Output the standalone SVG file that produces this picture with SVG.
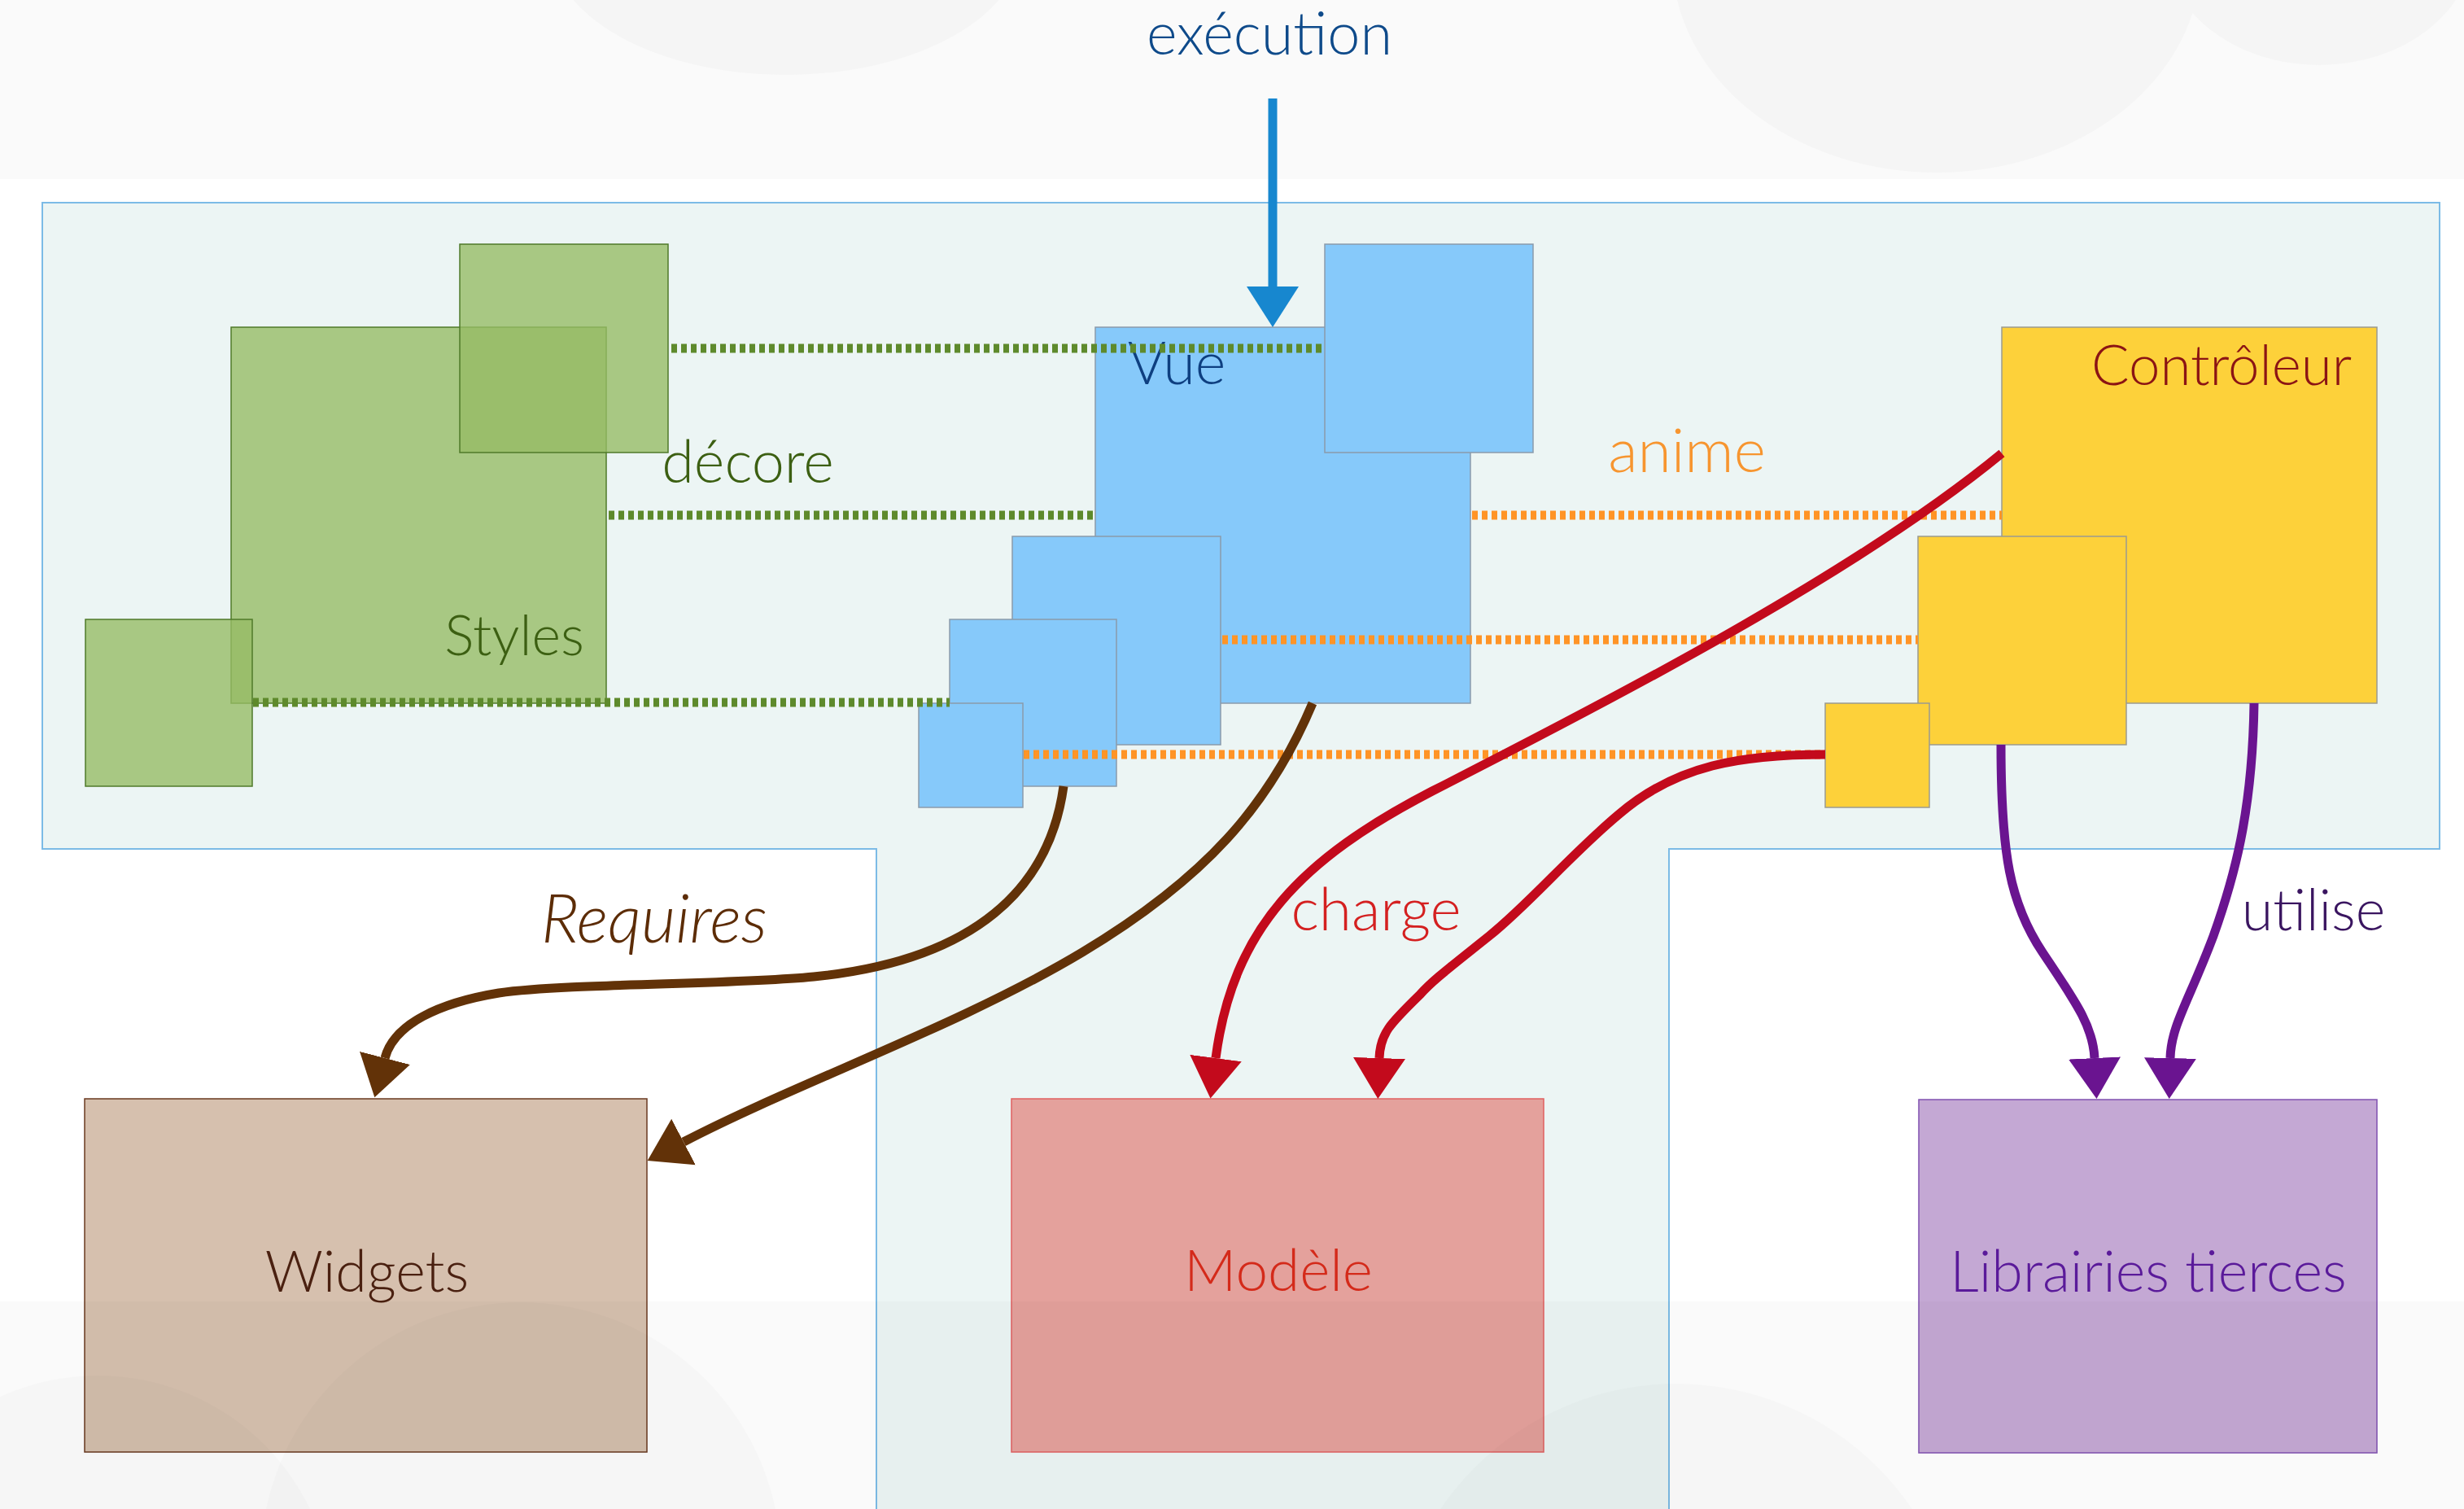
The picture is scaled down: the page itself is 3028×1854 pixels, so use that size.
<svg xmlns="http://www.w3.org/2000/svg" width="3028" height="1854" viewBox="0 0 3028 1854">
<style>
  text { font-family: Lato, "Open Sans", "Noto Sans", sans-serif; font-weight: 300; text-anchor: middle; }
  .lbl { font-size: 72px; }
  .green { fill: #96bc64; fill-opacity: 0.79; stroke: #4f7a2a; stroke-width: 1.5; }
  .blue { fill: #86c9fa; stroke: #8a9aab; stroke-width: 1.5; }
  .yellow { fill: #fdd13a; stroke: #9a9a90; stroke-width: 1.5; }
  .dotg { stroke: #5e8a2c; stroke-width: 11; stroke-dasharray: 7 5; fill: none; }
  .doto { stroke: #ff9426; stroke-width: 11; stroke-dasharray: 7 5; fill: none; }
  .conn { fill: none; stroke-width: 11; }
</style>
<defs>
  <marker id="hBlue" markerUnits="userSpaceOnUse" markerWidth="52" markerHeight="66" refX="0" refY="32" orient="auto" viewBox="0 0 52 64"><path d="M0,0 L50,32 L0,64 Z" fill="#1787cf"/></marker>
  <marker id="hRed" markerUnits="userSpaceOnUse" markerWidth="52" markerHeight="66" refX="0" refY="32" orient="auto" viewBox="0 0 52 64"><path d="M0,0 L50,32 L0,64 Z" fill="#c30a1c"/></marker>
  <marker id="hBrown" markerUnits="userSpaceOnUse" markerWidth="52" markerHeight="66" refX="0" refY="32" orient="auto" viewBox="0 0 52 64"><path d="M0,0 L50,32 L0,64 Z" fill="#623208"/></marker>
  <marker id="hPurple" markerUnits="userSpaceOnUse" markerWidth="52" markerHeight="66" refX="0" refY="32" orient="auto" viewBox="0 0 52 64"><path d="M0,0 L50,32 L0,64 Z" fill="#6a1490"/></marker>
  <clipPath id="topBand"><rect x="0" y="0" width="3028" height="220"/></clipPath>
  <clipPath id="botBand"><rect x="0" y="1599" width="3028" height="255"/></clipPath>
</defs>

<!-- background -->
<g id="background">
  <rect x="0" y="0" width="3028" height="1854" fill="#ffffff"/>
  <rect x="0" y="0" width="3028" height="220" fill="#fafafa"/>
  <g clip-path="url(#topBand)" fill="#f5f5f5">
    <ellipse cx="966" cy="-70" rx="290" ry="162"/>
    <ellipse cx="2380" cy="-50" rx="325" ry="262"/>
    <ellipse cx="2850" cy="-70" rx="190" ry="150"/>
  </g>
</g>

<!-- container -->
<g id="container">
  <path d="M52,249 H2998 V1043 H2051 V1860 H1077 V1043 H52 Z" fill="#ecf5f4" stroke="#7cbbe6" stroke-width="2"/>
</g>

<!-- Styles -->
<g id="styles">
  <rect class="green" x="284" y="402" width="461" height="462"/>
  <rect class="green" x="565" y="300" width="256" height="256"/>
  <rect class="green" x="105" y="761" width="205" height="205"/>
  <text x="632" y="805" font-size="68" fill="#3c5f12">Styles</text>
</g>

<!-- Vue -->
<g id="vue">
  <rect class="blue" x="1346" y="402" width="461" height="462"/>
  <rect class="blue" x="1628" y="300" width="256" height="256"/>
  <rect class="blue" x="1244" y="659" width="256" height="256"/>
  <rect class="blue" x="1167" y="761" width="205" height="205"/>
  <rect class="blue" x="1129" y="864" width="128" height="128"/>
  <text class="lbl" x="1446" y="472" fill="#0e3f80">Vue</text>
</g>

<!-- Contrôleur -->
<g id="controleur">
  <rect class="yellow" x="2460" y="402" width="461" height="462"/>
  <rect class="yellow" x="2357" y="659" width="256" height="256"/>
  <rect class="yellow" x="2243" y="864" width="128" height="128"/>
  <text x="2730" y="473" font-size="69" fill="#8b1414">Contrôleur</text>
</g>

<!-- Widgets -->
<g id="widgets">
  <rect x="104" y="1350" width="691" height="434" fill="#d6c0ae" stroke="#6a3a20" stroke-width="1.5"/>
  <text x="451" y="1587" font-size="70" fill="#4a2010">Widgets</text>
</g>

<!-- Modèle -->
<g id="modele">
  <rect x="1243" y="1350" width="654" height="434" fill="#e4a19c" stroke="#e06060" stroke-width="1.5"/>
  <text x="1571" y="1586" font-size="71" fill="#d42a1a">Modèle</text>
</g>

<!-- Librairies tierces -->
<g id="librairies">
  <rect x="2358" y="1351" width="563" height="434" fill="#c4a8d4" stroke="#8050b0" stroke-width="1.5"/>
  <text x="2640" y="1587" font-size="70" fill="#5a1a9a">Librairies tierces</text>
</g>

<!-- connectors -->
<g id="connectors">
  <line class="dotg" x1="825" y1="428" x2="1628" y2="428"/>
  <line class="dotg" x1="748" y1="633" x2="1346" y2="633"/>
  <line class="dotg" x1="311" y1="863" x2="1167" y2="863"/>
  <line class="doto" x1="1809" y1="633" x2="2460" y2="633"/>
  <line class="doto" x1="1502" y1="786" x2="2357" y2="786"/>
  <line class="doto" x1="1258" y1="927" x2="2243" y2="927"/>

  <line class="conn" x1="1564" y1="121" x2="1564" y2="352" stroke="#1787cf" marker-end="url(#hBlue)"/>

  <path class="conn" stroke="#c30a1c" d="M2460,557 C2280,705 1980,860 1760,972 C1600,1055 1515,1140 1494,1300" marker-end="url(#hRed)"/>
  <path class="conn" stroke="#c30a1c" d="M2243,927 C2140,927 2060,940 1990,1000 C1930,1050 1880,1110 1830,1150 C1780,1190 1760,1205 1745,1222 C1708,1258 1696,1270 1695,1300" marker-end="url(#hRed)"/>

  <path class="conn" stroke="#623208" d="M1307,966 C1290,1090 1200,1180 1000,1200 C900,1210 700,1208 613,1220 C540,1232 484,1258 473,1300" marker-end="url(#hBrown)"/>
  <path class="conn" stroke="#623208" d="M1613,864 C1560,990 1480,1080 1330,1170 C1180,1260 980,1330 840,1403" marker-end="url(#hBrown)"/>

  <path class="conn" stroke="#6a1490" d="M2459,915 C2459,1050 2470,1110 2510,1170 C2550,1230 2572,1260 2574,1300" marker-end="url(#hPurple)"/>
  <path class="conn" stroke="#6a1490" d="M2770,864 C2768,1000 2745,1080 2720,1150 C2690,1230 2668,1260 2667,1300" marker-end="url(#hPurple)"/>
</g>

<!-- labels -->
<g id="labels">
  <text x="1560" y="67" font-size="72" fill="#0e4a8a">exécution</text>
  <text class="lbl" x="919" y="593" fill="#3c5f12">décore</text>
  <text x="2073" y="580" font-size="75" fill="#f7952f">anime</text>
  <text x="1691" y="1143" font-size="73" fill="#d42020">charge</text>
  <text x="2843" y="1143" font-size="70" fill="#3a1560">utilise</text>
  <text x="804" y="1158" font-size="82" font-style="italic" fill="#5c2c06">Requires</text>
</g>

<!-- bottom band overlay -->
<g id="bottom-band" clip-path="url(#botBand)">
  <rect x="0" y="1599" width="3028" height="255" fill="#000" fill-opacity="0.02"/>
  <g fill="#000" fill-opacity="0.015">
    <circle cx="640" cy="1920" r="320"/>
    <circle cx="120" cy="1980" r="290"/>
    <circle cx="2060" cy="2050" r="350"/>
  </g>
</g>
</svg>
